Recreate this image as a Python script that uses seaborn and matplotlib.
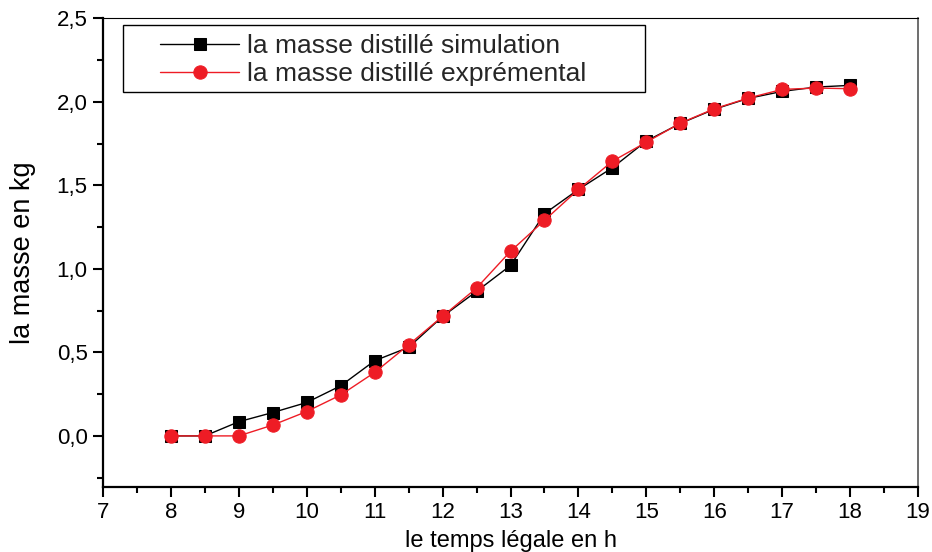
import matplotlib
matplotlib.use("Agg")
import matplotlib.pyplot as plt
import seaborn as sns
import pandas as pd
from matplotlib.patches import Rectangle
from matplotlib.ticker import MultipleLocator, FuncFormatter

temps = [8, 8.5, 9, 9.5, 10, 10.5, 11, 11.5, 12, 12.5, 13, 13.5, 14, 14.5, 15, 15.5, 16, 16.5, 17, 17.5, 18]
simulation = [0.0, 0.0, 0.085, 0.14, 0.20, 0.30, 0.45, 0.53, 0.715, 0.865, 1.02, 1.33, 1.475, 1.605, 1.765, 1.87, 1.955, 2.02, 2.062, 2.088, 2.098]
experimental = [0.0, 0.0, 0.0, 0.065, 0.146, 0.245, 0.38, 0.545, 0.716, 0.885, 1.105, 1.29, 1.475, 1.644, 1.758, 1.872, 1.958, 2.022, 2.074, 2.082, 2.078]

label_sim = "la masse distillé simulation"
label_exp = "la masse distillé exprémental"

df = pd.DataFrame({"t": temps, "sim": simulation, "exp": experimental})

sns.set_theme(style="white")
plt.rcParams["font.family"] = ["Liberation Sans", "DejaVu Sans"]

fig = plt.figure(figsize=(9.32, 5.52), dpi=100)
ax = fig.add_axes([0.1105, 0.118, 0.8745, 0.849])

sns.lineplot(data=df, x="t", y="sim", ax=ax, color="black", linewidth=1.0,
             marker="s", markersize=8.2, markeredgecolor="black",
             markerfacecolor="black", label=label_sim)
sns.lineplot(data=df, x="t", y="exp", ax=ax, color="#ee1c25", linewidth=1.0,
             marker="o", markersize=9.6, markeredgecolor="#ee1c25",
             markerfacecolor="#ee1c25", label=label_exp)

ax.set_xlim(7, 19)
ax.set_ylim(-0.305, 2.5)
ax.xaxis.set_major_locator(MultipleLocator(1))
ax.xaxis.set_minor_locator(MultipleLocator(0.5))
ax.yaxis.set_major_locator(MultipleLocator(0.5))
ax.yaxis.set_minor_locator(MultipleLocator(0.25))
ax.yaxis.set_major_formatter(FuncFormatter(lambda v, p: f"{v:.1f}".replace(".", ",")))

ax.tick_params(axis="both", which="major", direction="out", length=7, width=1.5,
               color="black", left=True, bottom=True, pad=4)
ax.tick_params(axis="both", which="minor", direction="out", length=4, width=1.5,
               color="black", left=True, bottom=True)
for lab in ax.get_xticklabels() + ax.get_yticklabels():
    lab.set_fontsize(16)
    lab.set_color("black")

for side in ["left", "bottom"]:
    ax.spines[side].set_linewidth(1.6)
    ax.spines[side].set_color("black")
ax.spines["top"].set_linewidth(0.8)
ax.spines["top"].set_color("black")
ax.spines["right"].set_linewidth(1.2)
ax.spines["right"].set_color("#555555")

ax.set_xlabel("le temps légale en h", fontsize=17, color="black", labelpad=5)
ax.set_ylabel("la masse en kg", fontsize=19.5, color="black", labelpad=15)

# legend frame as in the reference (wide left margin)
ax.add_patch(Rectangle((0.0245, 0.8427), 0.6405, 0.143, transform=ax.transAxes,
                       facecolor="white", edgecolor="black", linewidth=1.0, zorder=4))
leg = ax.legend(loc="upper left", bbox_to_anchor=(0.070, 0.966), fontsize=19,
                frameon=False, borderpad=0.0, handlelength=3.0, handletextpad=0.3,
                labelspacing=0.16, borderaxespad=0.0)
leg.set_zorder(5)

fig.savefig("out.png", dpi=100)
